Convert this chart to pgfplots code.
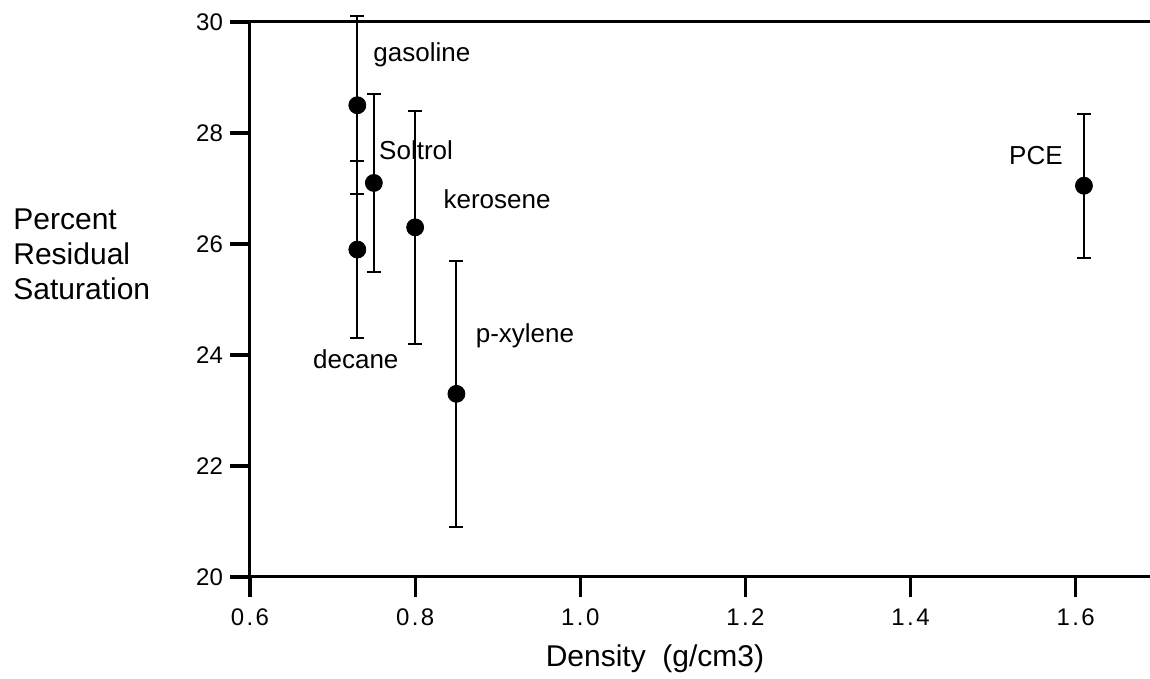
\documentclass[border=0pt]{standalone}
\usepackage{fontspec}
\setmainfont{Liberation Sans}
\newfontfamily\spacedfont[LetterSpace=10]{Liberation Sans}
\usepackage{pgfplots}
\pgfplotsset{compat=1.18}

\pgfplotstableread{
x     y     e
0.73  28.5  1.6
0.73  25.9  1.6
0.75  27.1  1.6
0.80  26.3  2.1
0.85  23.3  2.4
1.61  27.05 1.3
}\residual

\begin{document}
\begin{tikzpicture}
\path[use as bounding box] (-125pt,-51pt) rectangle (450pt,288.5pt);
\begin{axis}[
  scale only axis, width=450pt, height=277.5pt,
  xmin=0.6, xmax=1.69, ymin=20, ymax=30,
  axis x line*=bottom, axis y line*=left,
  xtick={0.6,0.8,1.0,1.2,1.4,1.6}, ytick={20,22,24,26,28,30},
  tick align=outside, major tick length=10pt,
  every tick/.style={line width=1.6pt, black},
  axis line style={line width=1.5pt, black},
  /pgf/number format/assume math mode=true,
  yticklabel style={font=\fontsize{12}{14}\selectfont},
  xticklabel style={font=\spacedfont\fontsize{12}{14}\selectfont, yshift=-2.5pt,
    /pgf/number format/.cd, fixed, fixed zerofill, precision=1},
  clip=false,
  xlabel={Density\ \ (g/cm3)},
  xlabel style={at={(axis description cs:0.45,0)}, anchor=center, yshift=-41pt,
    font=\fontsize{15}{18}\selectfont},
  ylabel={Percent\\Residual\\Saturation},
  ylabel style={rotate=-90, at={(axis description cs:0,0.582)}, anchor=west,
    xshift=-118.5pt, align=left, inner sep=0pt, font=\fontsize{15}{17.5}\selectfont},
]
% closing line along the top of the frame
\draw[line width=1.5pt] (rel axis cs:0,1) -- (rel axis cs:1,1);

\addplot[only marks, mark=*, mark size=4.25pt, black,
  error bars/.cd, y dir=both, y explicit,
  error bar style={line width=1pt},
  error mark options={rotate=90, mark size=3.5pt, line width=1pt}]
  table[x=x, y=y, y error=e] {\residual};

\begin{scope}[every node/.style={anchor=west, inner sep=0pt, font=\fontsize{13}{15}\selectfont}]
\node at (axis cs:0.749,29.41) {gasoline};
\node at (axis cs:0.756,27.69) {Soltrol};
\node at (axis cs:0.834,26.81) {kerosene};
\node at (axis cs:0.676,23.92) {decane};
\node at (axis cs:0.873,24.34) {p-xylene};
\node at (axis cs:1.519,27.59) {PCE};
\end{scope}
\end{axis}
\end{tikzpicture}
\end{document}
